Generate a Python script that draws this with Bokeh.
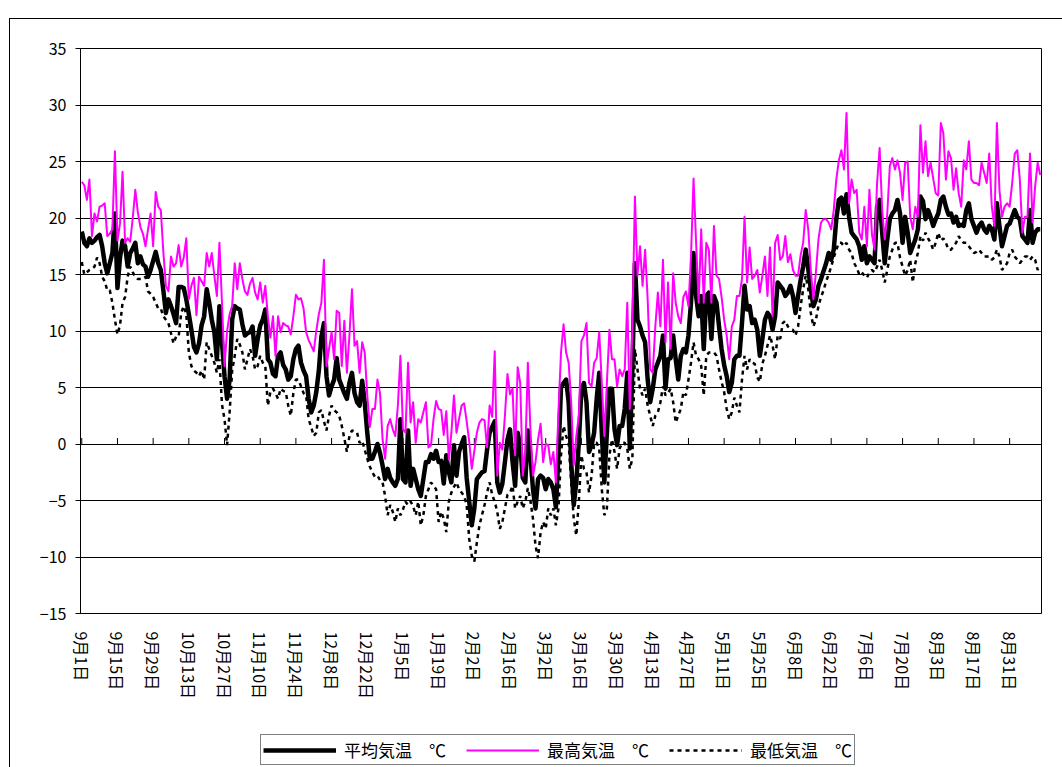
from bokeh.plotting import figure
from bokeh.layouts import column
from bokeh.models import ColumnDataSource, FixedTicker, Range1d, Legend, LegendItem
from bokeh.embed import file_html
from bokeh.resources import INLINE

FONT = "Noto Sans CJK JP"

# Category labels shown every 14 days along the horizontal axis
tick_labels = ["9月1日", "9月15日", "9月29日", "10月13日", "10月27日", "11月10日",
               "11月24日", "12月8日", "12月22日", "1月5日", "1月19日", "2月2日",
               "2月16日", "3月2日", "3月16日", "3月30日", "4月13日", "4月27日",
               "5月11日", "5月25日", "6月8日", "6月22日", "7月6日", "7月20日",
               "8月3日", "8月17日", "8月31日"]

# Daily mean temperature (°C), from 9月1日
mean_temp = [
    18.8, 17.8, 17.5, 18.2, 17.8, 18.0, 18.3, 18.5, 17.5, 16.0, 15.1, 16.0, 16.9, 20.4, 13.8, 16.5,
    18.0, 17.5, 15.7, 16.9, 17.3, 17.8, 16.0, 16.6, 15.9, 15.7, 14.8, 15.4, 16.2, 17.0, 16.0, 15.4,
    13.6, 11.6, 12.8, 12.2, 11.5, 10.7, 13.9, 13.9, 13.8, 12.8, 11.5, 10.1, 8.6, 8.1, 8.9,
    10.5, 11.3, 13.7, 12.5, 11.0, 9.9, 7.5, 12.2, 9.0, 6.0, 4.0, 5.7, 11.0, 12.2, 12.0, 11.9,
    10.6, 9.6, 9.8, 9.9, 10.4, 7.8, 9.3, 10.5, 11.0, 11.9, 7.5, 7.2, 6.2, 6.0, 7.8, 8.1,
    7.0, 6.6, 5.7, 6.0, 7.5, 8.4, 8.7, 7.2, 6.5, 6.0, 4.0, 2.8, 3.4, 4.6, 6.5,
    9.5, 10.7, 6.0, 4.3, 5.1, 5.7, 7.6, 5.7, 5.1, 4.5, 4.0, 5.4, 6.3, 4.5, 3.7, 3.4,
    5.6, 3.7, 1.0, -1.3, -1.3, -0.7, 0.0, -0.8, -1.9, -3.1, -2.2, -3.0, -3.4, -3.7, -3.1, 2.2,
    -3.1, -3.4, 1.2, -3.7, -2.2, -3.1, -4.0, -4.6, -3.1, -1.6, -1.6, -0.9, -1.3, -0.6, -1.6,
    -1.5, -3.5, -1.0, -2.5, -3.4, -0.1, -2.8, -0.7, 0.0, 0.6, -3.0, -5.1, -7.2, -5.7, -3.1, -2.8,
    -2.5, -2.4, -0.5, 1.0, 1.5, 2.0, -3.4, -4.3, -3.5, -1.6, 0.4, 1.3, -1.6, -3.7, 1.0, -0.1,
    -3.0, -3.4, 1.2, -1.0, -4.0, -5.7, -3.1, -2.8, -3.0, -4.0, -3.1, -3.4, -4.0, -5.6, -1.0,
    5.0, 5.4, 5.7, 3.7, -1.6, -5.4, -3.4, 0.1, 4.9, 5.4, 3.7, -0.7, -0.1, 1.0, 4.0, 6.3,
    1.0, -3.4, 1.0, 4.9, 4.9, 1.3, -0.1, 1.6, 1.6, 3.1, 6.3, -0.4, 6.6, 16.0, 11.0, 10.4,
    9.6, 9.0, 5.7, 3.7, 4.9, 6.6, 7.2, 7.8, 9.6, 4.9, 7.5, 7.6, 9.6, 7.5, 5.7,
    7.8, 8.4, 8.1, 9.6, 12.5, 16.9, 13.1, 11.3, 13.1, 8.4, 13.1, 13.4, 9.3, 13.1, 12.5, 10.4,
    8.4, 7.0, 6.0, 4.6, 5.4, 7.5, 7.8, 7.8, 10.7, 14.0, 11.9, 12.2, 10.7, 11.0, 10.1, 7.8,
    9.3, 11.0, 11.6, 11.3, 10.1, 11.3, 14.3, 14.0, 13.7, 13.1, 13.4, 14.0, 13.1, 11.6, 13.1,
    14.5, 15.7, 17.2, 15.5, 13.7, 12.2, 12.8, 14.0, 14.6, 15.3, 16.0, 16.9, 16.3, 17.2, 19.9, 21.6,
    21.8, 20.4, 22.1, 20.1, 18.7, 18.4, 18.1, 17.5, 16.3, 17.5, 16.0, 16.6, 16.3, 16.0, 21.0, 21.6,
    18.7, 16.0, 18.1, 19.9, 20.4, 20.7, 21.6, 20.4, 17.8, 20.1, 18.7, 16.9, 17.5, 18.1, 19.0,
    21.9, 21.5, 19.9, 20.7, 20.1, 19.3, 19.9, 20.4, 21.6, 21.9, 21.0, 20.3, 20.4, 19.6, 20.1, 19.3,
    19.4, 19.3, 20.7, 21.3, 19.9, 19.3, 18.7, 19.3, 19.6, 19.0, 18.7, 19.3, 19.0, 18.1, 21.3, 19.3,
    17.5, 18.4, 19.3, 19.5, 20.1, 20.7, 20.1, 19.9, 18.4, 18.1, 17.8, 20.7, 17.8, 18.7, 19.0, 19.0,
]

# Daily maximum temperature (°C)
max_temp = [
    23.2, 22.9, 21.6, 23.4, 18.4, 20.4, 19.7, 21.0, 21.1, 21.3, 18.4, 18.6, 19.0, 25.9, 18.0, 19.5,
    24.1, 17.8, 18.2, 17.9, 20.0, 22.5, 20.5, 19.2, 18.6, 17.5, 19.0, 20.4, 17.5, 22.3, 21.0, 20.7,
    17.0, 14.0, 13.5, 16.6, 15.7, 16.0, 17.6, 15.7, 16.5, 18.2, 12.8, 14.0, 14.7, 11.4, 14.8,
    14.4, 14.0, 16.9, 15.7, 16.9, 14.9, 13.1, 17.8, 12.5, 6.9, 10.0, 11.5, 12.2, 16.0, 13.7, 16.0,
    14.6, 13.5, 13.2, 14.2, 14.7, 13.4, 12.8, 14.3, 12.5, 14.0, 11.3, 9.4, 11.3, 7.8, 11.3, 9.9,
    10.7, 10.5, 10.4, 9.7, 11.3, 13.2, 12.8, 12.9, 12.0, 9.9, 9.2, 8.7, 8.2, 10.0, 11.5,
    12.5, 16.3, 6.9, 8.4, 9.9, 7.5, 11.8, 11.6, 6.9, 10.9, 6.3, 9.6, 13.7, 8.7, 9.1, 6.3,
    9.0, 8.1, 4.3, 1.5, 3.1, 3.1, 5.7, 4.5, 0.4, -1.3, 1.6, 2.2, 1.3, 0.7, 3.4, 7.8,
    1.3, 1.0, 7.2, 1.9, 3.7, 0.1, 2.2, 1.9, 2.8, 3.7, -0.3, -0.1, 2.2, 3.8, 3.1,
    3.0, 0.8, 2.9, -1.4, 1.0, 4.3, 1.0, 2.2, 3.4, 3.6, 2.0, 0.2, -2.2, -0.6, 1.0, 1.9,
    2.2, 2.1, -0.3, 3.4, 2.4, 8.2, -2.8, 0.1, -0.5, 2.5, 6.2, 4.4, 4.9, -1.0, 6.8, 5.4,
    -2.8, -0.7, 7.2, 1.3, -2.8, -1.6, 0.4, 1.8, -1.6, 0.0, -0.1, -1.8, -0.7, -3.4, 2.8,
    8.1, 10.6, 8.1, 7.2, 3.7, -1.9, 0.7, 2.5, 9.1, 9.6, 10.7, 5.4, 5.1, 7.2, 7.6, 9.9,
    5.4, 0.7, 5.4, 10.1, 7.5, 7.5, 5.1, 6.6, 6.0, 6.6, 12.5, 3.1, 10.4, 21.9, 14.9, 17.5,
    14.0, 17.2, 12.8, 6.6, 6.3, 10.4, 13.4, 10.4, 16.3, 9.0, 14.3, 8.4, 15.1, 12.5, 11.3,
    10.7, 13.0, 13.5, 12.2, 16.6, 23.5, 17.8, 12.5, 19.0, 12.5, 17.8, 17.2, 12.5, 19.3, 14.9, 14.6,
    13.0, 11.0, 9.6, 7.5, 10.4, 11.0, 13.1, 13.1, 14.6, 20.1, 14.3, 17.4, 14.6, 14.9, 15.4, 13.4,
    14.9, 16.6, 13.1, 17.4, 11.3, 17.8, 18.5, 16.3, 16.6, 18.4, 16.1, 16.8, 15.4, 14.9, 14.9,
    16.7, 17.8, 20.7, 19.0, 15.4, 12.8, 15.2, 18.1, 19.6, 19.9, 19.9, 19.6, 19.0, 20.7, 23.4, 25.1,
    26.0, 24.3, 29.3, 21.3, 23.4, 22.2, 22.5, 18.7, 18.1, 21.0, 17.5, 22.5, 18.5, 17.2, 23.1, 26.2,
    20.7, 18.1, 20.4, 24.6, 25.3, 24.3, 25.1, 24.0, 21.6, 24.9, 25.0, 20.1, 19.0, 21.0, 20.1,
    28.2, 24.0, 26.8, 23.7, 24.9, 23.5, 22.2, 22.0, 28.4, 27.5, 23.4, 25.9, 25.3, 22.5, 24.4, 22.2,
    21.0, 25.1, 24.3, 26.8, 23.4, 23.1, 23.1, 22.9, 24.9, 24.0, 23.1, 25.7, 21.0, 19.3, 28.4, 22.5,
    20.1, 21.0, 21.3, 21.0, 23.1, 25.7, 26.0, 23.4, 18.7, 20.1, 20.1, 25.7, 19.6, 22.8, 24.9, 23.8,
]

# Daily minimum temperature (°C)
min_temp = [
    16.1, 15.0, 15.2, 15.4, 15.5, 15.7, 16.5, 16.0, 14.8, 14.4, 13.6, 13.6, 12.5, 11.0, 9.7, 10.5,
    12.5, 13.0, 14.8, 15.7, 15.2, 14.8, 14.6, 14.6, 14.6, 14.8, 13.5, 13.3, 13.0, 12.5, 12.0, 12.0,
    11.3, 11.0, 10.7, 9.8, 8.9, 9.5, 9.5, 11.6, 12.2, 11.5, 8.1, 6.9, 6.5, 6.3, 6.0,
    6.5, 5.7, 9.0, 8.4, 7.8, 7.2, 6.3, 7.5, 3.5, 2.2, -0.1, 2.8, 6.5, 7.8, 9.3, 8.8,
    8.1, 6.6, 7.5, 8.4, 7.8, 6.6, 6.9, 7.8, 7.2, 6.9, 3.4, 4.6, 4.9, 4.5, 4.0, 4.9,
    4.7, 4.6, 3.4, 2.5, 4.5, 5.7, 5.7, 5.1, 4.5, 4.3, 2.2, 1.5, 0.7, 1.0, 2.8,
    3.0, 2.0, 1.2, 2.5, 3.4, 3.0, 2.8, 2.5, 1.6, 0.5, -0.7, 0.7, 1.2, 1.1, 1.0, 0.1,
    0.3, -0.5, -1.3, -2.0, -2.5, -2.9, -2.8, -3.2, -3.4, -4.6, -6.3, -5.4, -6.0, -6.9, -5.7, -6.3,
    -5.8, -5.1, -5.4, -5.1, -5.5, -6.3, -5.1, -7.2, -6.3, -4.6, -4.0, -3.4, -3.7, -4.0, -6.9,
    -6.0, -6.6, -7.8, -5.1, -4.3, -3.8, -3.4, -4.0, -4.3, -4.6, -5.4, -8.4, -9.9, -10.4, -8.7, -7.2,
    -6.3, -5.4, -4.3, -3.4, -4.5, -5.1, -6.0, -7.5, -6.9, -5.7, -4.5, -4.3, -3.7, -5.7, -5.1, -4.6,
    -5.7, -5.1, -3.9, -5.0, -6.6, -9.0, -10.1, -7.8, -6.9, -7.5, -5.7, -6.3, -5.7, -7.2, -5.7,
    -1.0, 1.6, 0.7, 0.1, -3.4, -6.6, -8.1, -5.1, -1.0, -2.2, -2.5, -4.3, -2.8, 0.1, 0.1, -0.4,
    -4.0, -6.3, -5.7, -1.0, 0.4, -0.7, -2.2, -0.4, 0.1, 0.1, -0.4, -2.2, -1.3, 8.4, 6.6, 4.9,
    4.3, 4.9, 3.4, 2.5, 1.6, 2.5, 2.8, 3.7, 5.1, 4.3, 4.5, 4.9, 3.7, 1.9, 2.5,
    3.1, 4.6, 4.3, 5.7, 7.2, 9.0, 7.8, 7.5, 6.9, 4.3, 7.8, 8.1, 8.1, 8.1, 7.8, 6.6,
    5.5, 4.6, 3.1, 2.2, 2.8, 4.1, 3.4, 2.8, 5.7, 7.8, 6.6, 7.5, 7.2, 7.1, 5.9, 5.5,
    7.1, 7.8, 8.7, 9.6, 8.7, 7.5, 9.6, 9.3, 10.7, 10.9, 10.4, 10.2, 10.1, 9.6, 10.4,
    12.2, 13.7, 14.9, 13.7, 11.6, 10.4, 11.0, 12.2, 13.0, 13.6, 14.4, 15.0, 15.7, 16.5, 17.2, 17.8,
    17.8, 17.5, 17.8, 17.2, 16.9, 16.0, 15.6, 15.0, 15.2, 14.9, 14.7, 15.2, 15.4, 15.2, 15.7, 16.3,
    15.4, 14.3, 15.4, 16.6, 17.2, 17.8, 17.8, 16.5, 15.7, 14.9, 15.4, 16.3, 14.3, 16.0, 16.9,
    18.4, 18.0, 18.7, 18.2, 17.8, 17.2, 17.8, 18.7, 18.0, 18.2, 17.8, 17.2, 17.2, 17.5, 17.8, 18.4,
    18.0, 17.8, 17.8, 17.5, 17.2, 16.9, 17.0, 17.2, 16.9, 16.6, 16.6, 16.6, 16.3, 16.5, 17.2, 16.6,
    15.4, 15.7, 16.0, 16.9, 17.2, 16.6, 16.3, 16.0, 16.3, 16.6, 16.6, 16.3, 16.6, 16.3, 15.4, 15.8,
]

series_names = ["平均気温　℃", "最高気温　℃", "最低気温　℃"]

n_days = len(mean_temp)
day = list(range(n_days))
tick_days = [14 * i for i in range(len(tick_labels))]
y_ticks = list(range(-15, 36, 5))

src = ColumnDataSource(dict(day=day, mean=mean_temp, tmax=max_temp, tmin=min_temp))

MEAN_STYLE = dict(line_color="black", line_width=4.5, line_join="round")
MAX_STYLE = dict(line_color="#FF00FF", line_width=2, line_join="round")
MIN_STYLE = dict(line_color="black", line_width=2.5, line_dash="4 4")

# ---- main chart -------------------------------------------------------------
p = figure(width=1052, height=700,
           x_range=Range1d(-0.5, n_days - 0.5), y_range=Range1d(-15, 35),
           output_backend="svg", toolbar_location=None,
           min_border_left=70, min_border_top=29, min_border_right=21, min_border_bottom=106)
p.background_fill_color = "white"
p.border_fill_color = "white"
p.outline_line_color = "black"
p.outline_line_width = 1

p.xgrid.grid_line_color = None
p.ygrid.ticker = FixedTicker(ticks=y_ticks)
p.ygrid.grid_line_color = "black"
p.ygrid.grid_line_width = 1

p.yaxis.ticker = FixedTicker(ticks=y_ticks)
p.yaxis.major_label_overrides = {v: (f"\u2212{abs(v)}" if v < 0 else str(v)) for v in y_ticks}
p.yaxis.major_label_text_font = FONT
p.yaxis.major_label_text_font_size = "16px"
p.yaxis.major_label_text_color = "black"
p.yaxis.axis_line_color = "black"
p.yaxis.major_tick_line_color = "black"
p.yaxis.major_tick_out = 5
p.yaxis.major_tick_in = 0
p.yaxis.minor_tick_line_color = None
p.yaxis.major_label_standoff = 9

p.xaxis.ticker = FixedTicker(ticks=tick_days)
p.xaxis.major_label_overrides = {d: lab for d, lab in zip(tick_days, tick_labels)}
p.xaxis.major_label_orientation = "vertical"
p.xaxis.major_label_text_font = FONT
p.xaxis.major_label_text_font_size = "16px"
p.xaxis.major_label_text_color = "black"
p.xaxis.axis_line_color = None
p.xaxis.major_tick_line_color = None
p.xaxis.minor_tick_line_color = None
p.xaxis.major_label_standoff = 12

# the date axis crosses at 0: short tick marks every 14 days on that line
px_per_unit = 565 / 50.0
tick_len = 6 / px_per_unit
p.segment(x0=tick_days, y0=[0] * len(tick_days), x1=tick_days, y1=[tick_len] * len(tick_days),
          line_color="black", line_width=1)

p.line("day", "mean", source=src, **MEAN_STYLE)
p.line("day", "tmax", source=src, **MAX_STYLE)
p.line("day", "tmin", source=src, **MIN_STYLE)

# ---- legend strip under the chart --------------------------------------------
lf = figure(width=1052, height=48, x_range=Range1d(-1000, -900), y_range=Range1d(0, 1),
            output_backend="svg", toolbar_location=None,
            x_axis_type=None, y_axis_type=None, min_border=0)
lf.outline_line_color = None
lf.grid.grid_line_color = None
lf.background_fill_color = "white"
lf.border_fill_color = "white"
k_mean = lf.line("day", "mean", source=src, **MEAN_STYLE)
k_max = lf.line("day", "tmax", source=src, **MAX_STYLE)
k_min = lf.line("day", "tmin", source=src, **MIN_STYLE)

legend = Legend(items=[LegendItem(label=series_names[0], renderers=[k_mean]),
                       LegendItem(label=series_names[1], renderers=[k_max]),
                       LegendItem(label=series_names[2], renderers=[k_min])],
                orientation="horizontal", location=(180, 2))
legend.label_text_font = FONT
legend.label_text_font_size = "17px"
legend.label_text_color = "black"
legend.glyph_width = 73
legend.glyph_height = 16
legend.label_standoff = 8
legend.spacing = 20
legend.padding = 2
legend.margin = 0
legend.border_line_color = "black"
legend.border_line_width = 1
legend.background_fill_color = "white"
legend.background_fill_alpha = 1
lf.add_layout(legend)

layout = column(p, lf, spacing=0)
layout.styles = {"margin-left": "9px", "margin-top": "18px",
                 "border-left": "1px solid #000000", "border-top": "1px solid #000000"}

open("out.html", "w").write(file_html(layout, INLINE))
